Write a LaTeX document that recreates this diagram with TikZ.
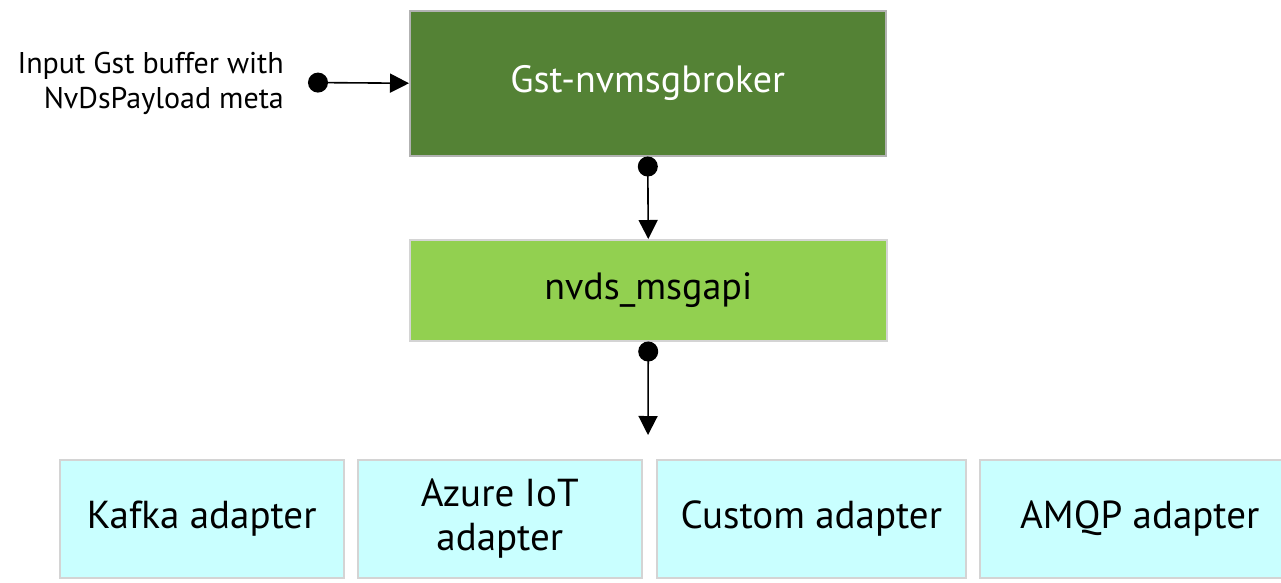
\documentclass[tikz,border=0pt]{standalone}
\usepackage{fontspec}
\setmainfont{PT Sans}
\usetikzlibrary{arrows.meta}
\definecolor{dkgreen}{HTML}{548235}
\definecolor{ltgreen}{HTML}{92D050}
\definecolor{ltcyan}{HTML}{C9FFFF}
\definecolor{boxedge}{HTML}{D4D4D4}
\tikzset{
  box/.style={draw=boxedge, line width=1.5pt, inner sep=0pt, anchor=north west, align=center},
  conn/.style={line width=1.6pt, {Circle[length=20pt,width=20pt]}-{Triangle[length=19pt,width=19pt]}},
  bigtext/.style={font=\fontsize{39}{44}\selectfont},
}
\begin{document}
\begin{tikzpicture}[x=1pt,y=-1pt]
\useasboundingbox[fill=white] (0,0) rectangle (1281,582);
\node[box, draw=gray!60, fill=dkgreen, text=white, minimum width=476pt, minimum height=145pt, font=\fontsize{38}{42}\selectfont] (gst) at (409,10) {Gst-nvmsgbroker};
\node[box, fill=ltgreen, minimum width=477pt, minimum height=101pt, font=\fontsize{38}{42}\selectfont] (api) at (409,239) {nvds\_msgapi};
\node[box, fill=ltcyan, minimum width=284pt, minimum height=118pt, bigtext] (kafka) at (59,459) {Kafka adapter};
\node[box, fill=ltcyan, minimum width=284pt, minimum height=118pt, bigtext] (azure) at (357,459) {Azure IoT\\adapter};
\node[box, fill=ltcyan, minimum width=309pt, minimum height=118pt, bigtext] (custom) at (656,459) {Custom adapter};
\node[box, fill=ltcyan, minimum width=320pt, minimum height=118pt, bigtext] (amqp) at (979,459) {AMQP adapter};
\node[anchor=east, align=right, inner sep=0pt, font=\fontsize{30}{35}\selectfont] (inlabel) at (284,83) {Input Gst buffer with\\NvDsPayload meta};
\coordinate (instart) at (308,82.5);
\coordinate (apiend) at (648,435);
\draw[conn] (instart) -- (gst.west);
\draw[conn] (gst.south) -- (api.north);
\draw[conn] (api.south) -- (apiend);
\end{tikzpicture}
\end{document}
